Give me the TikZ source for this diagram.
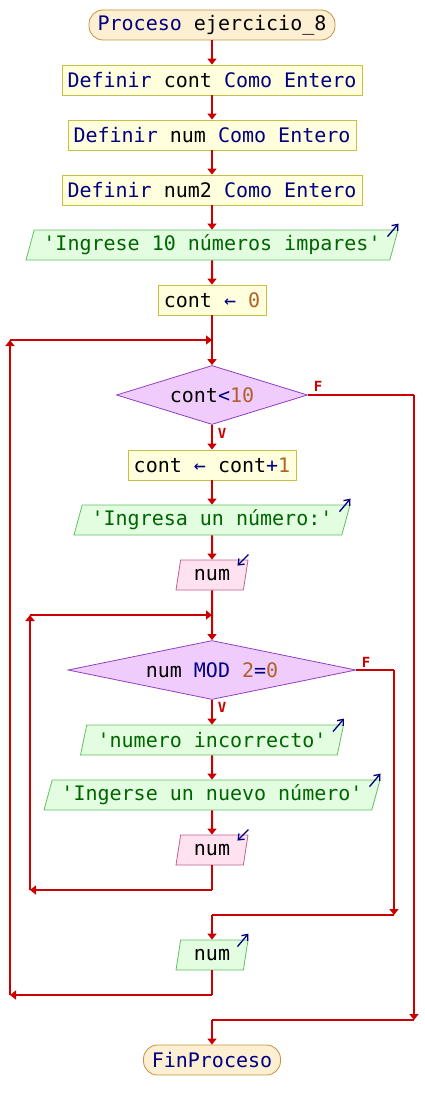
\documentclass[tikz,border=0pt]{standalone}
\usepackage{fontspec}
\setmonofont{DejaVu Sans Mono}
\usetikzlibrary{shapes.geometric,arrows.meta,calc}
\definecolor{termfill}{HTML}{FDEFD2}
\definecolor{termdraw}{HTML}{C89040}
\definecolor{procfill}{HTML}{FFFFDD}
\definecolor{procdraw}{HTML}{C8C040}
\definecolor{outfill}{HTML}{E2FDE0}
\definecolor{outdraw}{HTML}{60C060}
\definecolor{infill}{HTML}{FFE2F0}
\definecolor{indraw}{HTML}{C06090}
\definecolor{condfill}{HTML}{F0CCFC}
\definecolor{conddraw}{HTML}{9040C0}
\definecolor{flowred}{HTML}{CC0000}
\definecolor{navy}{HTML}{000080}
\definecolor{strgreen}{HTML}{006400}
\definecolor{numcol}{HTML}{B0602A}
\newcommand{\kw}[1]{\textcolor{navy}{#1}}
\newcommand{\nm}[1]{\textcolor{numcol}{#1}}
\newcommand{\str}[1]{\textcolor{strgreen}{#1}}
\begin{document}
\begin{tikzpicture}[x=1pt,y=-1pt,
  font=\ttfamily\fontsize{20}{20}\selectfont,
  base/.style={inner sep=0pt, minimum height=30pt, line width=0.8pt},
  term/.style={base, draw=termdraw, fill=termfill, rounded corners=14pt},
  proc/.style={base, draw=procdraw, fill=procfill},
  io/.style={base, trapezium, trapezium left angle=68, trapezium right angle=112, trapezium stretches body},
  outp/.style={io, draw=outdraw, fill=outfill},
  inp/.style={io, draw=indraw, fill=infill},
  cond/.style={diamond, inner sep=0pt, draw=conddraw, fill=condfill, line width=0.8pt},
  flow/.style={draw=flowred, line width=2pt},
  arr/.style={flow, -{Triangle[width=9pt,length=6pt]}},
  lab/.style={text=flowred, font=\ttfamily\bfseries\fontsize{14}{14}\selectfont, inner sep=0pt},
  icon/.style={draw=navy, line width=1.3pt, -{Straight Barb[length=5pt,width=8pt]}}
]
\useasboundingbox (0,0) rectangle (424,1110);

% nodes
\node[term, minimum width=246pt] (start) at (212,25) {\kw{Proceso} ejercicio\_8};
\node[proc, minimum width=300pt] (d1) at (212,80) {\kw{Definir} cont \kw{Como Entero}};
\node[proc, minimum width=288pt] (d2) at (212,135) {\kw{Definir} num \kw{Como Entero}};
\node[proc, minimum width=300pt] (d3) at (212,190) {\kw{Definir} num2 \kw{Como Entero}};
\node[outp, minimum width=372pt] (out1) at (212,245) {\str{'Ingrese 10 números impares'}};
\node[proc, minimum width=108pt] (asg0) at (212,300) {cont \kw{←} \nm{0}};
\node[cond, aspect=3.2, minimum width=191pt, minimum height=59pt] (dia1) at (212,395) {cont\kw{<}\nm{10}};
\node[proc, minimum width=168pt] (asg1) at (212,465) {cont \kw{←} cont\kw{+}\nm{1}};
\node[outp, minimum width=276pt] (out2) at (212,520) {\str{'Ingresa un número:'}};
\node[inp, minimum width=72pt] (in1) at (212,575) {num};
\node[cond, aspect=4.9, minimum width=288pt, minimum height=59pt] (dia2) at (212,670) {num \kw{MOD} \nm{2}\kw{=}\nm{0}};
\node[outp, minimum width=263pt] (out3) at (212,740) {\str{'numero incorrecto'}};
\node[outp, minimum width=336pt] (out4) at (212,795) {\str{'Ingerse un nuevo número'}};
\node[inp, minimum width=72pt] (in2) at (212,850) {num};
\node[outp, minimum width=72pt] (out5) at (212,955) {num};
\node[term, minimum width=137pt] (fin) at (212,1060) {\kw{FinProceso}};

% labels
\node[lab] (f1) at (318,386) {F};
\node[lab] (v1) at (222,433) {V};
\node[lab] (f2) at (366,662) {F};
\node[lab] (v2) at (222,707.5) {V};

% coordinates
\coordinate (j1) at (212,340);
\coordinate (l1) at (10,340);
\coordinate (l1b) at (10,995);
\coordinate (j1b) at (212,995);
\coordinate (j2) at (212,615);
\coordinate (l2) at (30,615);
\coordinate (l2b) at (30,890);
\coordinate (j2b) at (212,890);
\coordinate (r2) at (394,670);
\coordinate (r2b) at (394,915);
\coordinate (m2) at (212,915);
\coordinate (r1) at (414,395);
\coordinate (r1b) at (414,1020);
\coordinate (m1) at (212,1020);

% straight connectors
\draw[arr] (start) -- (d1);
\draw[arr] (d1) -- (d2);
\draw[arr] (d2) -- (d3);
\draw[arr] (d3) -- (out1);
\draw[arr] (out1) -- (asg0);
\draw[arr] (asg0) -- (dia1);
\draw[arr] (dia1) -- (asg1);
\draw[arr] (asg1) -- (out2);
\draw[arr] (out2) -- (in1);
\draw[arr] (in1) -- (dia2);
\draw[arr] (dia2) -- (out3);
\draw[arr] (out3) -- (out4);
\draw[arr] (out4) -- (in2);

% inner loop back
\draw[flow] (in2) -- (j2b);
\draw[arr] (j2b) -- (l2b);
\draw[arr] (l2b) -- (l2);
\draw[arr] (l2) -- (j2);

% inner false branch
\draw[flow] (dia2.east) -- (r2);
\draw[arr] (r2) -- (r2b);
\draw[flow] (r2b) -- (m2);
\draw[arr] (m2) -- (out5);

% outer loop back
\draw[flow] (out5) -- (j1b);
\draw[arr] (j1b) -- (l1b);
\draw[arr] (l1b) -- (l1);
\draw[arr] (l1) -- (j1);

% outer false branch
\draw[flow] (dia1.east) -- (r1);
\draw[arr] (r1) -- (r1b);
\draw[flow] (r1b) -- (m1);
\draw[arr] (m1) -- (fin);

% io icons
\foreach \o in {out1,out2,out3,out4,out5}{
  \draw[icon] ($(\o.top right corner)+(-11,7)$) -- ($(\o.top right corner)+(0,-6)$);
}
\foreach \i in {in1,in2}{
  \draw[icon] ($(\i.top right corner)+(0,-5)$) -- ($(\i.top right corner)+(-11,6)$);
}
\end{tikzpicture}
\end{document}
